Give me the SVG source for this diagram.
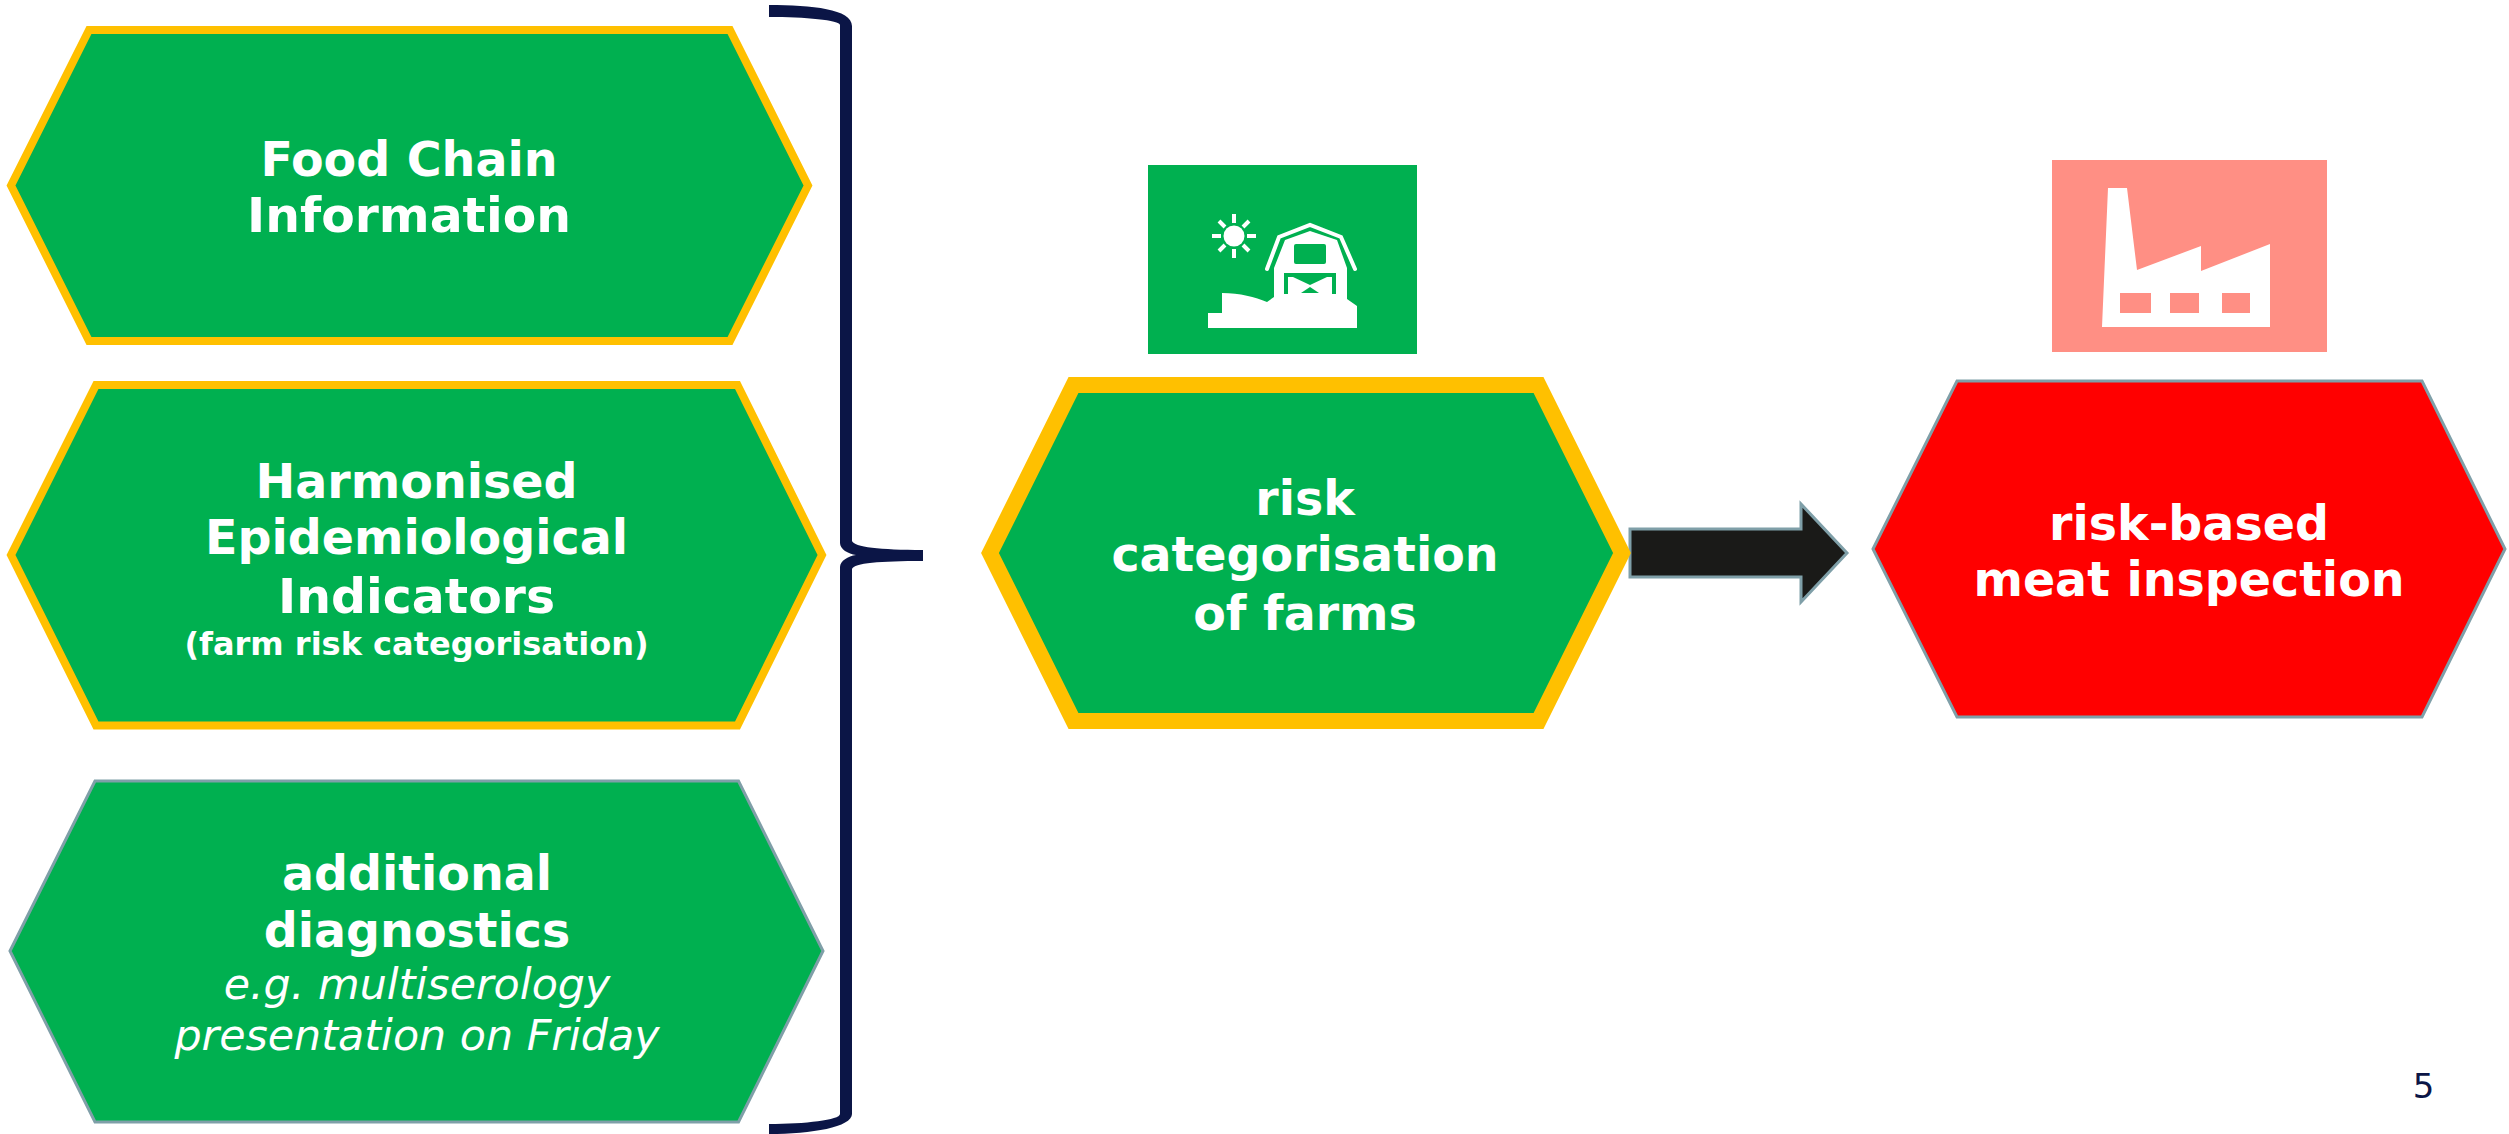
<svg xmlns="http://www.w3.org/2000/svg" width="2509" height="1134" viewBox="0 0 2509 1134">
<style>
.g{fill:#00b050}
.y{stroke:#ffc000;stroke-width:8;stroke-linejoin:miter}
.b{stroke:#7f9fa8;stroke-width:3}
text{font-family:"DejaVu Sans","Liberation Sans",sans-serif;fill:#fff;text-anchor:middle;font-weight:bold;font-size:47.500px}
.s{font-size:32px}
.i{font-weight:normal;font-style:italic;font-size:42.800px}
</style>
<rect width="2509" height="1134" fill="#fff"/>
<g id="connectors">
<path d="M769 5C812 5 852 9 852 26V541C854 547 880 550 923 550V561C880 561 854 563 852 569V1114C852 1127 812 1134 769 1134V1124C805 1124 840 1120 840 1114V567C840 561 848 556 856 555C848 554 840 549 840 543V25C840 20 805 17 769 17Z" fill="#0b1546"/>
<path d="M1630 529H1801V504L1847 553L1801 602V577H1630Z" fill="#1a1a18" stroke="#7f9fa8" stroke-width="3"/>
</g>
<g id="node-food-chain">
<polygon class="g y" points="11,185.500 89,30 730,30 808,185.500 730,341 89,341"/>
<text x="409" y="176">Food Chain</text><text x="409" y="232" textLength="324" lengthAdjust="spacingAndGlyphs">Information</text>
</g>
<g id="node-hei">
<polygon class="g y" points="11,555 96,385 737.500,385 822,555 737.500,725.500 96,725.500"/>
<text x="416.500" y="498">Harmonised</text><text x="416.500" y="554">Epidemiological</text><text x="416.500" y="613" textLength="277" lengthAdjust="spacingAndGlyphs">Indicators</text><text x="416.500" y="655" class="s">(farm risk categorisation)</text>
</g>
<g id="node-diagnostics">
<polygon class="g b" points="10,951 95,781 738.500,781 823,951 738.500,1122 95,1122"/>
<text x="417" y="890">additional</text><text x="417" y="947">diagnostics</text><text x="417" y="999" class="i">e.g. multiserology</text><text x="417" y="1050" class="i">presentation on Friday</text>
</g>
<g id="node-risk-cat">
<polygon class="g" stroke="#ffc000" stroke-width="16" points="990,553 1073.500,385 1538.500,385 1622,553 1538.500,721 1073.500,721"/>
<text x="1305" y="515">risk</text><text x="1305" y="571">categorisation</text><text x="1305" y="630">of farms</text>
</g>
<g id="node-meat">
<polygon fill="#ff0000" class="b" points="1873,549 1957,381 2422,381 2505,549 2422,717 1957,717"/>
<text x="2189" y="540">risk-based</text><text x="2189" y="596">meat inspection</text>
</g>
<g id="icon-farm">
<rect x="1148" y="165" width="269" height="189" class="g"/>
<circle cx="1234" cy="236" r="10.500" fill="#fff"/>
<path d="M1234 214v9M1234 249v9M1212 236h9M1247 236h9M1219 221l6 6M1243 245l6 6M1249 221l-6 6M1225 245l-6 6" stroke="#fff" stroke-width="4" fill="none"/>
<path d="M1208 328V313H1222V293C1240 293 1255 297 1267 302L1274 297V268L1285 240L1310 231L1337 240L1347 268V299L1357 306V328Z" fill="#fff"/>
<path d="M1267 269L1279 237L1310 225L1341 237L1355 269" fill="none" stroke="#fff" stroke-width="4" stroke-linecap="round"/>
<rect x="1294" y="244" width="32" height="20" rx="2" class="g"/>
<path d="M1286 294V275H1334V294" fill="none" stroke="#00b050" stroke-width="4"/>
<path d="M1293 277H1327L1310 285Z" class="g"/>
<path d="M1301 293L1310 287L1319 293Z" class="g"/>
</g>
<g id="icon-factory">
<rect x="2052" y="160" width="275" height="192" fill="#ff8f84"/>
<path d="M2102 327L2108 188H2127L2137 270L2201 246V271L2270 244V327Z" fill="#fff"/>
<g fill="#ff8f84"><rect x="2120" y="293" width="31" height="20"/><rect x="2170" y="293" width="29" height="20"/><rect x="2222" y="293" width="28" height="20"/></g>
</g>
<text id="page-number" x="2423.500" y="1098" style="font-weight:normal;font-size:34px;fill:#0b1546">5</text>
</svg>
